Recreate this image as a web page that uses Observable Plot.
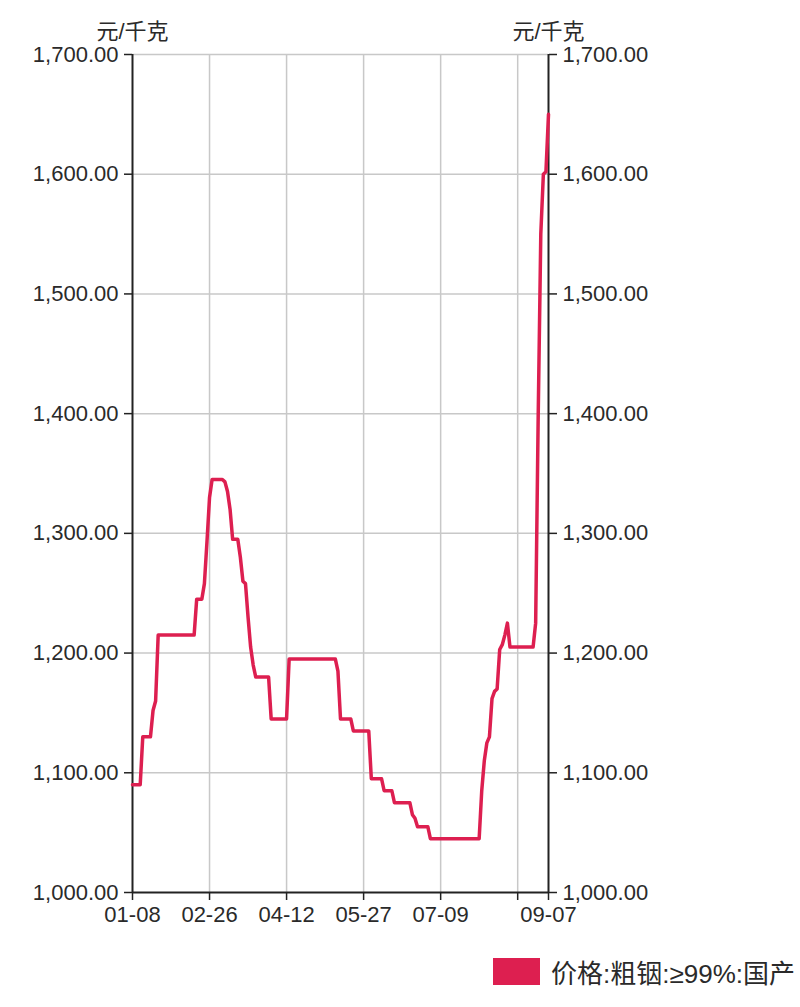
<!DOCTYPE html>
<html>
<head>
<meta charset="utf-8">
<script src="https://cdn.jsdelivr.net/npm/d3@7"></script>
<script src="https://cdn.jsdelivr.net/npm/@observablehq/plot@0.6"></script>
<style>
  html, body { margin: 0; padding: 0; background: #fff; }
  #wrap { position: relative; width: 800px; height: 1007px; font-family: "Liberation Sans", Arial, "Noto Sans CJK SC", sans-serif; }
  #legend { position: absolute; left: 493px; top: 958px; height: 27px; display: flex; align-items: center; font-size: 26px; color: #2a2a2a; font-family: "Liberation Sans", Arial, "Noto Sans CJK SC", sans-serif; white-space: nowrap; }
  #legend .sw { width: 47px; height: 27px; background: #dd1f50; margin-right: 11px; flex: none; }
</style>
</head>
<body>
<div id="wrap">
  <div id="chart"></div>
  <div id="legend"><span class="sw"></span><span id="legend-text"></span></div>
</div>
<script>
// Trading-day index (0 = 01-08, 162 = 09-07) of each vertex, and price (元/千克)
const dayIndex = [0, 3, 4, 7, 8, 9, 10, 23, 24, 25, 27, 28, 29, 30, 31, 35, 36, 37, 38, 39, 41, 42, 43, 44, 45, 46, 47, 48, 53, 54, 60, 61, 79, 80, 81, 85, 86, 92, 93, 97, 98, 101, 102, 108, 109, 110, 111, 115, 116, 135, 136, 137, 138, 139, 140, 141, 142, 143, 144, 145, 146, 147, 156, 157, 158, 159, 160, 161, 162];
const price    = [1090, 1090, 1130, 1130, 1152, 1160, 1215, 1215, 1215, 1245, 1245, 1258, 1293, 1330, 1345, 1345, 1343, 1335, 1320, 1295, 1295, 1280, 1260, 1258, 1230, 1205, 1190, 1180, 1180, 1145, 1145, 1195, 1195, 1185, 1145, 1145, 1135, 1135, 1095, 1095, 1085, 1085, 1075, 1075, 1065, 1062, 1055, 1055, 1045, 1045, 1085, 1110, 1125, 1130, 1162, 1168, 1170, 1203, 1207, 1215, 1225, 1205, 1205, 1225, 1400, 1550, 1600, 1602, 1650];

const xTickIndex = [0, 30, 60, 90, 120, 150, 162];
const xTickLabel = ["01-08", "02-26", "04-12", "05-27", "07-09", "", "09-07"];
const yTicks = [1000, 1100, 1200, 1300, 1400, 1500, 1600, 1700];
const unit = "元/千克";
const seriesName = "价格:粗铟:≥99%:国产";

document.getElementById("legend-text").textContent = seriesName;

const data = dayIndex.map((d, k) => ({i: d, v: price[k]}));
const fmt = d3.format(",.2f");
const labelOf = d => xTickLabel[xTickIndex.indexOf(d)] ?? "";

const font = "22px";
const chart = Plot.plot({
  width: 800,
  height: 940,
  marginLeft: 132,
  marginRight: 252,
  marginTop: 54,
  marginBottom: 48,
  style: {fontFamily: "'Liberation Sans', Arial, 'Noto Sans CJK SC', sans-serif", fontSize: font, color: "#2a2a2a", background: "#fff"},
  x: {domain: [0, 162]},
  y: {domain: [1000, 1700]},
  marks: [
    Plot.gridX(xTickIndex.filter(d => d > 0 && d < 162), {stroke: "#c8c8c8", strokeOpacity: 1, strokeWidth: 1.5}),
    Plot.gridY(yTicks.filter(d => d > 1000), {stroke: "#c8c8c8", strokeOpacity: 1, strokeWidth: 1.5}),
    Plot.ruleX([0, 162], {stroke: "#222", strokeWidth: 2}),
    Plot.ruleY([1000], {stroke: "#222", strokeWidth: 2}),
    Plot.axisY(yTicks, {anchor: "left", tickFormat: fmt, tickSize: 8, tickPadding: 6, label: null, fontSize: font, stroke: "#222", strokeWidth: 1.5}),
    Plot.axisY(yTicks, {anchor: "right", tickFormat: fmt, tickSize: 8, tickPadding: 6, label: null, fontSize: font, stroke: "#222", strokeWidth: 1.5}),
    Plot.axisX(xTickIndex, {anchor: "bottom", tickFormat: labelOf, tickSize: 8, tickPadding: 6, label: null, fontSize: font, stroke: "#222", strokeWidth: 1.5}),
    Plot.line(data, {x: "i", y: "v", stroke: "#dd1f50", strokeWidth: 3.5, strokeLinejoin: "round"}),
    Plot.text([unit], {text: d => d, frameAnchor: "top-left", dy: -31, textAnchor: "middle", fontSize: font, fill: "#2a2a2a"}),
    Plot.text([unit], {text: d => d, frameAnchor: "top-right", dy: -31, textAnchor: "middle", fontSize: font, fill: "#2a2a2a"})
  ]
});
document.getElementById("chart").appendChild(chart);
</script>
</body>
</html>
